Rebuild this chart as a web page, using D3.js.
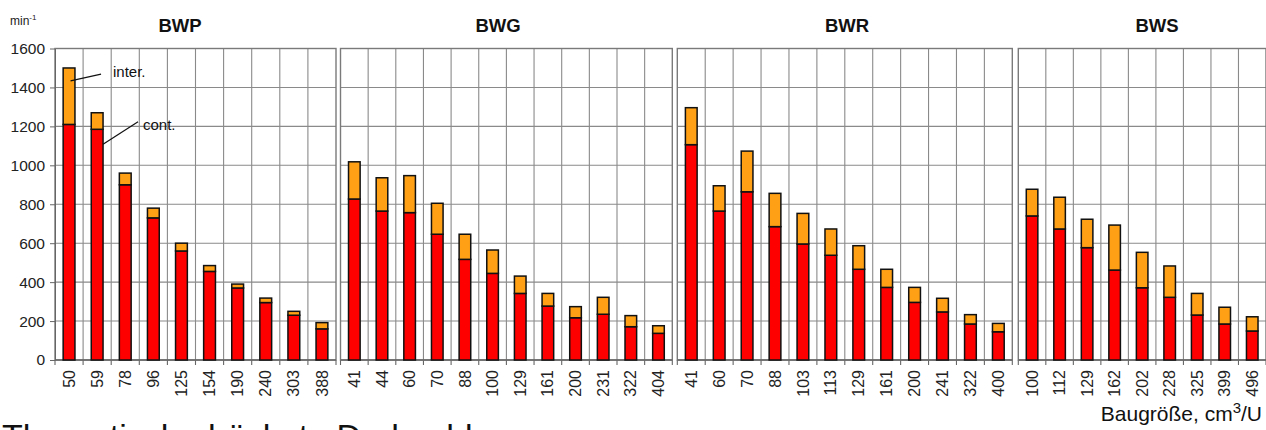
<!DOCTYPE html>
<html>
<head>
<meta charset="utf-8">
<script src="https://cdn.jsdelivr.net/npm/d3@7"></script>
<style>
  html, body { margin: 0; padding: 0; background: #fff; overflow: hidden; }
  svg { display: block; font-family: "Liberation Sans", Arial, sans-serif; }
</style>
</head>
<body>
<script>
// Pump families and their displacement sizes (cm3/U)
const families = ["BWP", "BWG", "BWR", "BWS"];

const sizesBWP = ["50", "59", "78", "96", "125", "154", "190", "240", "303", "388"];
const contBWP  = [1210, 1185, 900, 730, 560, 455, 370, 295, 230, 160];
const interBWP = [290, 85, 60, 50, 40, 30, 20, 23, 20, 32];

const sizesBWG = ["41", "44", "60", "70", "88", "100", "129", "161", "200", "231", "322", "404"];
const contBWG  = [827, 765, 757, 646, 517, 445, 342, 277, 217, 235, 171, 137];
const interBWG = [191, 171, 190, 159, 129, 120, 89, 65, 57, 87, 57, 39];

const sizesBWR = ["41", "60", "70", "88", "103", "113", "129", "161", "200", "241", "322", "400"];
const contBWR  = [1106, 765, 864, 685, 596, 538, 466, 373, 296, 247, 185, 145];
const interBWR = [190, 130, 209, 171, 157, 135, 121, 93, 77, 70, 48, 43];

const sizesBWS = ["100", "112", "129", "162", "202", "228", "325", "399", "496"];
const contBWS  = [740, 673, 577, 462, 371, 322, 231, 185, 149];
const interBWS = [137, 163, 146, 231, 182, 161, 111, 86, 73];

const yTicks = [0, 200, 400, 600, 800, 1000, 1200, 1400, 1600];

const sizes = [sizesBWP, sizesBWG, sizesBWR, sizesBWS];
const conts = [contBWP, contBWG, contBWR, contBWS];
const inters = [interBWP, interBWG, interBWR, interBWS];

// Horizontal extent of each panel and the x of its title
const panelX = [[55, 336], [340.5, 672.3], [677.3, 1012.3], [1018.3, 1266]];
const titleX = [180, 498, 847, 1157];

const W = 1266, H = 430;
const font = '"Liberation Sans", Arial, sans-serif';
const RED = "#FF0000", ORANGE = "#FFA015";
const GRID = "#8a8a8a";

const svg = d3.select("body").append("svg").attr("width", W).attr("height", H);

const y = d3.scaleLinear().domain([0, 1600]).range([360, 48.5]);

const stack = d3.stack().keys(["cont", "inter"]);
const scales = [];

families.forEach((name, p) => {
  const [x0, x1] = panelX[p];
  const rows = sizes[p].map((s, i) => ({ size: s, cont: conts[p][i], inter: inters[p][i] }));
  const x = d3.scaleBand().domain(sizes[p]).range([x0, x1]).padding(0);
  scales.push(x);
  const g = svg.append("g");

  // horizontal grid
  g.selectAll("line.hg").data(yTicks.slice(1)).join("line")
    .attr("x1", x0).attr("x2", x1)
    .attr("y1", d => y(d)).attr("y2", d => y(d))
    .attr("stroke", GRID).attr("stroke-width", 1.1);

  // vertical grid at category boundaries
  const bounds = sizes[p].slice(1).map(s => x(s));
  g.selectAll("line.vg").data(bounds).join("line")
    .attr("x1", d => d).attr("x2", d => d)
    .attr("y1", y(1600)).attr("y2", y(0))
    .attr("stroke", GRID).attr("stroke-width", 1.1);

  // boundary tick marks under the base line
  g.selectAll("line.bt").data([x0, ...bounds, x1]).join("line")
    .attr("x1", d => d).attr("x2", d => d)
    .attr("y1", y(0)).attr("y2", y(0) + 5)
    .attr("stroke", "#666").attr("stroke-width", 1.1);

  // panel frame
  g.append("rect")
    .attr("x", x0).attr("y", y(1600))
    .attr("width", x1 - x0).attr("height", y(0) - y(1600))
    .attr("fill", "none").attr("stroke", "#7a7a7a").attr("stroke-width", 1.4);

  // base line
  g.append("line").attr("x1", x0).attr("x2", x1)
    .attr("y1", y(0)).attr("y2", y(0))
    .attr("stroke", "#666").attr("stroke-width", 1.4);

  // stacked bars
  const bw = x.bandwidth() * 0.42;
  const series = stack(rows);
  const colors = [RED, ORANGE];
  series.forEach((s, k) => {
    g.selectAll(null).data(s).join("rect")
      .attr("x", d => x(d.data.size) + (x.bandwidth() - bw) / 2)
      .attr("y", d => y(d[1]))
      .attr("width", bw)
      .attr("height", d => y(d[0]) - y(d[1]))
      .attr("fill", colors[k])
      .attr("stroke", "#111").attr("stroke-width", 1.5);
  });

  // category labels, rotated
  const ax = d3.axisBottom(x).tickSize(0).tickPadding(0);
  const axg = svg.append("g").attr("transform", `translate(0,${y(0)})`).call(ax);
  axg.select(".domain").remove();
  axg.selectAll("text")
    .attr("transform", "rotate(-90)")
    .attr("x", -10).attr("y", 0).attr("dy", "0.35em")
    .attr("text-anchor", "end")
    .attr("font-family", font).attr("font-size", 16).attr("fill", "#222");

  // panel title
  svg.append("text").attr("x", titleX[p]).attr("y", 32)
    .attr("text-anchor", "middle")
    .attr("font-family", font).attr("font-size", 18.5).attr("font-weight", "bold")
    .attr("fill", "#111").text(name);
});

// y axis on the first panel
const yAx = d3.axisLeft(y).tickValues(yTicks).tickFormat(d3.format("d"))
  .tickSize(5).tickPadding(5).tickSizeOuter(0);
const yg = svg.append("g").attr("transform", `translate(${panelX[0][0]},0)`).call(yAx);
yg.select(".domain").attr("stroke", "#666");
yg.selectAll(".tick line").attr("stroke", "#666");
yg.selectAll("text").attr("font-family", font).attr("font-size", 15.5).attr("fill", "#222");

// unit label
const unit = svg.append("text").attr("x", 10).attr("y", 25)
  .attr("font-family", font).attr("font-size", 12).attr("fill", "#222");
unit.append("tspan").text("min");
unit.append("tspan").attr("dy", -5).attr("font-size", 8).text("-1");

// series annotations with leader lines
const xP = scales[0];
const c0 = xP(sizesBWP[0]) + xP.bandwidth() / 2;
const c1 = xP(sizesBWP[1]) + xP.bandwidth() / 2 + xP.bandwidth() * 0.21;
svg.append("line").attr("x1", c0 + 1.5).attr("y1", y(contBWP[0] + interBWP[0] * 0.77))
  .attr("x2", c0 + 32).attr("y2", y(1468)).attr("stroke", "#111").attr("stroke-width", 1.2);
svg.append("text").attr("x", 113).attr("y", 77)
  .attr("font-family", font).attr("font-size", 15).attr("fill", "#111").text("inter.");
svg.append("line").attr("x1", c1).attr("y1", y(1108))
  .attr("x2", c1 + 35).attr("y2", y(1224)).attr("stroke", "#111").attr("stroke-width", 1.2);
svg.append("text").attr("x", 143).attr("y", 130)
  .attr("font-family", font).attr("font-size", 15).attr("fill", "#111").text("cont.");

// axis title
const xt = svg.append("text").attr("x", 1262).attr("y", 421).attr("text-anchor", "end")
  .attr("font-family", font).attr("font-size", 21).attr("fill", "#111");
xt.append("tspan").text("Baugröße, cm");
xt.append("tspan").attr("dy", -8).attr("font-size", 15).text("3");
xt.append("tspan").attr("dy", 8).text("/U");

// caption line below the chart, running past the lower edge
svg.append("text").attr("x", 2).attr("y", 448)
  .attr("font-family", font).attr("font-size", 34).attr("fill", "#111")
  .text("Theoretische höchste Drehzahl");
</script>
</body>
</html>
